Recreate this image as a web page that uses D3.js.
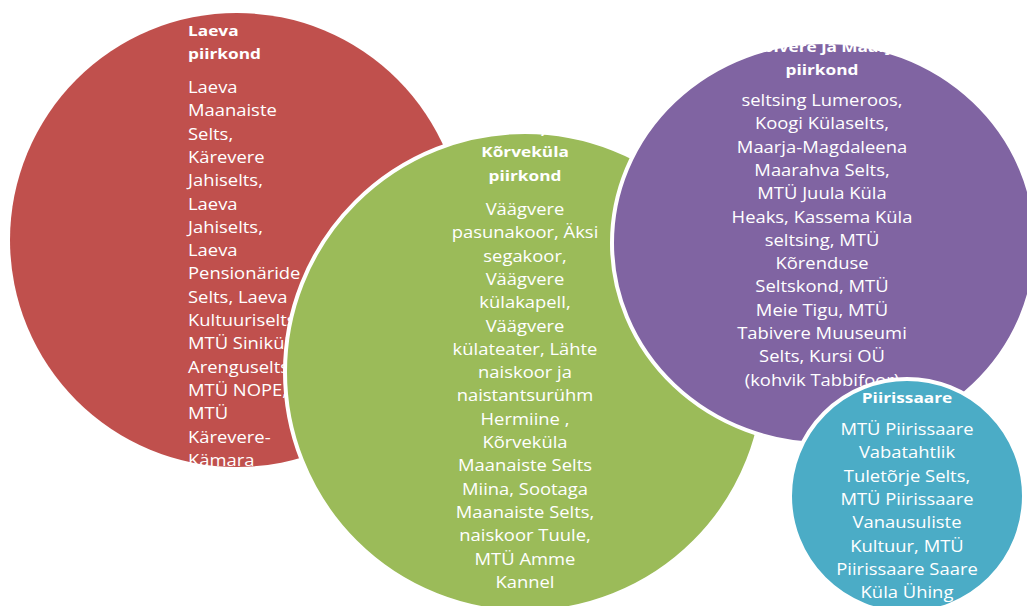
<!DOCTYPE html>
<html>
<head>
<meta charset="utf-8">
<script src="https://cdn.jsdelivr.net/npm/d3@7"></script>
<style>
  body { margin: 0; background: #ffffff; }
  svg { display: block; }
</style>
</head>
<body>
<svg id="chart" width="1027" height="606"></svg>
<script>
// regions (drawn back to front)
var regions = ['Laeva', 'Kõrveküla', 'Tabivere', 'Piirissaare'];

var titles = [
  ['Laeva', 'piirkond'],
  ['Äksi,', 'Kõrveküla', 'piirkond'],
  ['Tabivere ja Maarja', 'piirkond'],
  ['Piirissaare']
];

var members = [
  ['Laeva', 'Maanaiste', 'Selts,', 'Kärevere', 'Jahiselts,', 'Laeva', 'Jahiselts,', 'Laeva',
   'Pensionäride', 'Selts, Laeva', 'Kultuuriselts,', 'MTÜ Siniküla', 'Arenguselts,', 'MTÜ NOPE,',
   'MTÜ', 'Kärevere-', 'Kämara', 'Külaselts'],
  ['Väägvere', 'pasunakoor, Äksi', 'segakoor,', 'Väägvere', 'külakapell,', 'Väägvere',
   'külateater,  Lähte', 'naiskoor ja', 'naistantsurühm', 'Hermiine ,', 'Kõrveküla',
   'Maanaiste Selts', 'Miina, Sootaga', 'Maanaiste Selts,', 'naiskoor Tuule,', 'MTÜ Amme', 'Kannel'],
  ['seltsing Lumeroos,', 'Koogi Külaselts,', 'Maarja-Magdaleena', 'Maarahva Selts,',
   'MTÜ Juula Küla', 'Heaks, Kassema Küla', 'seltsing, MTÜ', 'Kõrenduse', 'Seltskond, MTÜ',
   'Meie Tigu, MTÜ', 'Tabivere Muuseumi', 'Selts, Kursi OÜ', '(kohvik Tabbifoor)'],
  ['MTÜ Piirissaare', 'Vabatahtlik', 'Tuletõrje Selts,', 'MTÜ Piirissaare', 'Vanausuliste',
   'Kultuur, MTÜ', 'Piirissaare Saare', 'Küla Ühing']
];

var colors = ['#c0504d', '#9bbb59', '#8064a2', '#4bacc6'];

// layout of the bubbles
var cx = [237, 525, 824, 907];
var cy = [240, 372, 243, 496];
var rx = [227, 240, 212, 117];
var ry = [227, 240, 201, 117];
var textX = [188, 525, 822, 907];
var textAnchor = ['start', 'middle', 'middle', 'middle'];
var titleY = [36, 134, 52, 403];   // baseline of the first title line
var bodyY = [93, 215, 106, 435];   // baseline of the first body line
var lineH = 23.3;
var stretch = 1.15;                // the picture's text is wide, like a stretched Calibri

var svg = d3.select('#chart');
var font = "'Open Sans', sans-serif";

var color = d3.scaleOrdinal().domain(regions).range(colors);

function addLines(g, lines, cls, x0, y0, anchor, size, weight){
  g.selectAll('text.' + cls)
    .data(lines)
    .enter().append('text')
    .attr('class', cls)
    .attr('transform', function(d, j){
      return 'translate(' + x0 + ',' + (y0 + j * lineH) + ') scale(' + stretch + ',1)';
    })
    .attr('text-anchor', anchor)
    .attr('fill', '#ffffff')
    .style('font-family', font)
    .style('font-size', size)
    .style('font-weight', weight)
    .text(function(d){ return d; });
}

regions.forEach(function(name, i){
  var g = svg.append('g').attr('class', 'region');

  g.append('ellipse')
    .attr('cx', cx[i])
    .attr('cy', cy[i])
    .attr('rx', rx[i])
    .attr('ry', ry[i])
    .attr('fill', color(name))
    .attr('stroke', i === 0 ? 'none' : '#ffffff')
    .attr('stroke-width', 4);

  addLines(g, titles[i], 'title', textX[i], titleY[i], textAnchor[i], '15px', 'bold');
  addLines(g, members[i], 'body', textX[i], bodyY[i], textAnchor[i], '16px', 'normal');
});
</script>
</body>
</html>
